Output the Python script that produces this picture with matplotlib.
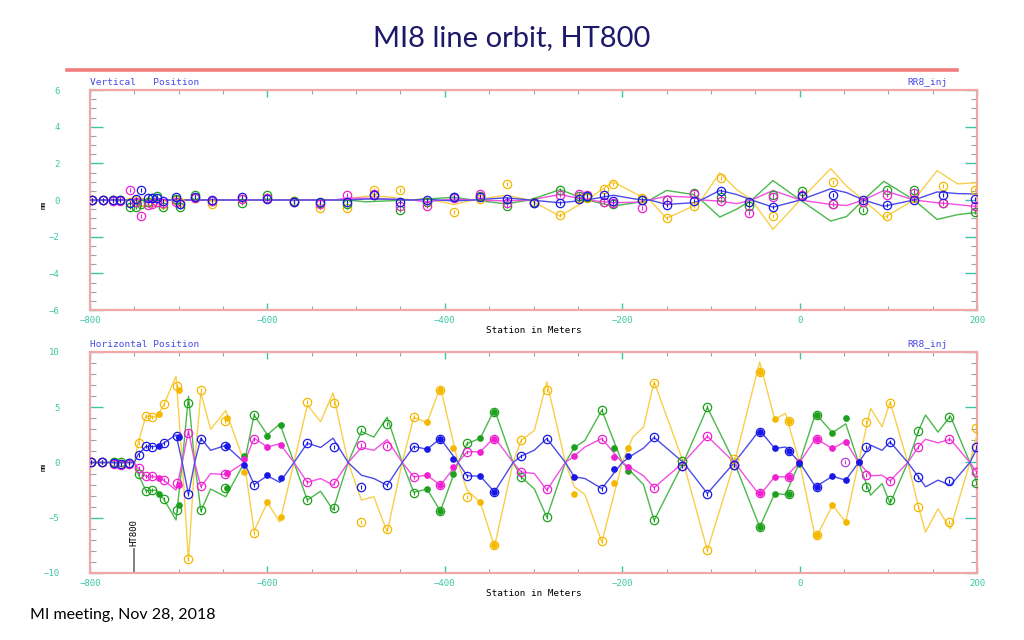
import matplotlib
matplotlib.use("Agg")
import matplotlib.pyplot as plt
import numpy as np
from matplotlib.lines import Line2D
from matplotlib.ticker import MultipleLocator

# ---- horizontal plane: orbit line knots (station m, mm) ----
h_s = [-800, -750, -746, -737, -725, -717, -703, -696, -689, -682, -675, -664, -647, -626,
       -615, -600, -586, -570, -555, -540, -526, -509, -494, -480, -465, -448, -435, -420,
       -405, -385, -375, -360, -344, -323, -314, -299, -285, -264, -254, -242, -223, -200,
       -188, -176, -164, -131, -104, -73.5, -45, -28, -16, 0, 18, 37, 52, 66.5, 80, 93,
       102, 122, 134, 142, 156, 170, 192, 200]
h_yellow = [0, 0, 1.7, 4.2, 4.1, 5.2, 7.8, 0, -8.9, 0, 6.3, 3.0, 4.7, 0,
            -6.2, -3.6, -5.4, 0, 5.2, 3.7, 6.3, 0, -3.4, -3.1, -6.3, 0, 4.1, 3.6,
            6.85, 0, -2.5, -3.6, -7.6, 0, 2.0, 2.9, 7.3, 0, -2.2, -2.9, -7.2, 0,
            2.3, 3.2, 7.3, 0, -7.95, 0, 9.1, 3.9, 4.45, 0, -6.9, -3.87, -5.38, 0, 4.9, 3.23,
            5.5, 0, -4.0, -6.3, -4.2, -6.0, 0, 2.5]
h_green = [0, 0, -1.0, -2.55, -2.5, -3.3, -5.2, 0, 6.0, 0, -4.4, -2.4, -3.1, 0,
           4.3, 2.5, 3.5, 0, -3.4, -2.6, -4.3, 0, 2.8, 2.3, 4.1, 0, -2.7, -2.4,
           -4.4, 0, 1.7, 2.2, 4.8, 0, -1.3, -2.4, -4.95, 0, 1.35, 2.0, 4.74, 0,
           -1.0, -2.0, -5.23, 0, 4.98, 0, -5.84, -2.8, -2.9, 0, 4.44, 2.69, 3.5, 0, -2.96, -1.9,
           -3.72, 0, 2.87, 4.3, 2.75, 4.2, 0, -1.9]
h_magenta = [0, 0, -0.5, -1.25, -1.3, -1.6, -2.5, 0, 2.9, 0, -2.2, -1.0, -1.1, 0,
             2.2, 1.4, 1.7, 0, -1.8, -1.45, -2.05, 0, 1.35, 1.1, 2.07, 0, -1.3, -1.15,
             -2.06, 0, 0.97, 0.97, 2.27, 0, -0.85, -1.0, -2.5, 0, 0.6, 1.4, 2.17, 0,
             -0.6, -1.2, -2.27, 0, 2.38, 0, -2.96, -1.3, -1.3, 0, 2.17, 1.27, 1.9, 0, -1.2, -1.15,
             -1.66, 0, 1.42, 2.1, 1.78, 2.1, 0, -0.9]
h_blue = [0, 0, 0.7, 1.45, 1.45, 1.75, 2.5, 0, -2.9, 0, 2.2, 1.1, 1.55, 0,
          -2.0, -1.2, -1.8, 0, 1.75, 1.36, 2.2, 0, -1.15, -1.45, -2.06, 0, 1.45, 1.2,
          2.17, 0, -1.2, -1.24, -2.66, 0, 0.57, 1.12, 2.17, 0, -1.3, -1.45, -2.36, 0,
          0.7, 1.3, 2.27, 0, -2.8, 0, 2.93, 1.27, 1.4, 0, -2.2, -1.24, -1.6, 0, 1.57, 1.1,
          1.87, 0, -1.3, -2.2, -1.6, -2.06, 0, 1.3]

# ---- horizontal plane: BPM readings ('o' open, 'f' filled, 'b' both) ----
h_bpm_s = [-799, -786, -773, -765, -756, -745, -737, -730, -722, -717, -702, -700, -689, -675,
           -648, -646, -626, -615, -600, -585, -555, -525, -494, -465, -435, -420, -405, -391,
           -375, -360, -345, -314, -285, -254, -223, -209, -194, -164, -133, -104, -73.5, -44.5,
           -28, -12.5, -0.5, 19.5, 37, 52, 66.5, 75, 102, 133.5, 168, 199]
h_bpm_kind = ['o', 'o', 'o', 'o', 'o', 'o', 'o', 'o', 'f', 'o', 'o', 'f', 'o', 'o',
              'o', 'f', 'f', 'o', 'f', 'f', 'o', 'o', 'o', 'o', 'o', 'f', 'b', 'f',
              'o', 'f', 'b', 'o', 'o', 'f', 'o', 'f', 'f', 'o', 'o', 'o', 'o', 'b',
              'f', 'b', 'f', 'b', 'f', 'f', 'f', 'o', 'o', 'o', 'o', 'o']
h_bpm_yellow = [0, 0, 0, -0.1, -0.1, 1.72, 4.22, 4.13, 4.35, 5.26, 6.9, 6.6, -8.7, 6.6,
                3.8, 4.0, -0.85, -6.38, -3.57, -4.93, 5.5, 5.35, -5.38, -5.98, 4.13, 3.62, 6.55, 1.27,
                -3.11, -3.57, -7.5, 2.02, 6.55, -2.81, -7.1, -1.84, 1.33, 7.2, 0.1, -7.95, 0.36, 8.22,
                3.9, 3.78, 0, -6.59, -3.87, -5.38, 0, 3.69, 5.35, -4.02, -5.38, 3.08]
h_bpm_green = [0, 0, 0, 0, -0.05, -1.0, -2.57, -2.45, -2.81, -3.32, -4.32, -3.87, 5.35, -4.32,
               -2.3, -2.27, 0.57, 4.29, 2.38, 3.38, -3.42, -4.08, 2.93, 3.48, -2.75, -2.36, -4.41, -1.0,
               1.72, 2.18, 4.6, -1.3, -4.93, 1.36, 4.74, 1.27, -0.75, -5.17, 0.1, 4.99, -0.24, -5.84,
               -2.81, -2.87, -0.1, 4.29, 2.69, 3.99, 0, -2.2, -3.42, 2.87, 4.14, -1.9]
h_bpm_magenta = [0, 0, -0.1, -0.25, -0.15, -0.5, -1.24, -1.24, -1.39, -1.6, -1.9, -2.06, 2.63, -2.15,
                 -1.06, -0.91, 0.36, 2.17, 1.42, 1.57, -1.75, -1.84, 1.57, 1.48, -1.3, -1.15, -2.06, -0.45,
                 0.97, 0.97, 2.09, -0.85, -2.36, 0.6, 2.17, 0.51, -0.45, -2.27, -0.33, 2.39, -0.24, -2.75,
                 -1.3, -1.3, 0, 2.17, 1.27, 1.87, 0, -1.15, -1.66, 1.42, 2.09, -0.85]
h_bpm_blue = [0, 0, -0.05, -0.1, -0.05, 0.66, 1.48, 1.36, 1.51, 1.78, 2.39, 2.27, -2.87, 2.17,
              1.45, 1.48, -0.24, -2.06, -1.15, -1.39, 1.72, 1.36, -2.21, -2.06, 1.42, 1.21, 2.17, 0.36,
              -1.24, -1.24, -2.66, 0.57, 2.17, -1.3, -2.36, -0.63, 0.57, 2.27, -0.33, -2.81, -0.24, 2.78,
              1.27, 1.03, -0.09, -2.21, -1.24, -1.6, 0, 1.42, 1.87, -1.3, -1.66, 1.42]
h_stray_s = [51]
h_stray_val = [0.06]

# ---- vertical plane: orbit line knots ----
v_s = [-800, -525, -510, -489, -466, -436, -421, -390, -368, -331, -304, -270, -240, -210,
       -185, -169, -150, -120, -111, -90, -71, -54, -30, 0.7, 35, 53, 72, 95, 129, 155,
       178, 196, 200]
v_yellow = [0, 0, 0.05, 0.21, 0.18, 0, 0.1, -0.25, 0, 0.26, 0, -0.88, 0, 0.99,
            0.35, 0, -1.0, -0.34, 0, 1.48, 0.57, 0, -1.6, 0, 1.71, 0.75, 0, -0.97, 0, 1.6,
            0.88, 0.93, 0.93]
v_green = [0, 0, 0, -0.1, -0.05, 0, 0.05, 0.15, 0, -0.21, 0, 0.57, 0, -0.33,
           -0.15, 0, 0.52, 0.3, 0, -0.93, -0.5, 0, 1.06, 0, -1.15, -0.9, 0, 1.02, 0, -1.06,
           -0.8, -0.7, -0.7]
v_magenta = [0, 0, 0.1, 0.1, 0.05, 0, -0.1, 0.05, 0, -0.05, 0, 0.3, 0, -0.15,
             -0.12, 0, 0.21, 0.15, 0, -0.06, -0.2, 0, 0.52, 0, -0.24, -0.3, 0, 0.52, 0, -0.15,
             -0.25, -0.34, -0.34]
v_blue = [0, 0, 0, 0.05, 0.05, 0, 0.04, -0.05, 0, 0.12, 0, -0.15, 0, 0.26,
          0.05, 0, -0.24, -0.15, 0, 0.52, 0.3, 0, -0.39, 0, 0.61, 0.4, 0, -0.34, 0, 0.44,
          0.35, 0.33, 0.33]

# ---- vertical plane: BPM readings ----
v_bpm_s = [-798, -785, -774, -766, -755, -748, -742, -735, -730, -724, -718, -703, -698, -682,
           -662, -629, -600, -570, -541, -510, -480, -450, -420, -390, -360, -330, -300, -270,
           -249, -240, -220, -210, -178, -149, -119, -89, -57, -30, 2.6, 38, 71.5, 98, 129,
           162, 198]
v_bpm_yellow = [0, 0, 0, 0, -0.1, 0, -0.1, -0.1, -0.1, -0.1, -0.2, 0, -0.1, 0.1,
                -0.24, 0.05, 0.1, -0.05, -0.42, -0.46, 0.52, 0.52, -0.1, -0.64, 0.05, 0.88, -0.1, -0.82,
                0.1, 0.1, 0.62, 0.88, 0.1, -0.97, -0.3, 1.2, -0.1, -0.88, 0.2, 0.99, -0.1, -0.88, 0.1,
                0.75, 0.57]
v_bpm_green = [0, 0, 0, 0, -0.39, -0.39, -0.2, -0.1, 0.1, 0.22, -0.36, 0.05, -0.39, 0.27,
               -0.05, -0.15, 0.27, -0.05, -0.15, -0.2, 0.25, -0.57, -0.1, 0.15, 0.2, -0.33, -0.1, 0.57,
               0.2, 0.15, -0.1, -0.2, 0, 0, 0.4, 0.15, -0.3, 0.3, 0.48, -0.24, -0.52, 0.52, 0.52,
               -0.15, -0.65]
v_bpm_magenta = [0, 0, -0.05, -0.05, 0.52, -0.1, -0.88, -0.27, -0.2, -0.1, -0.15, -0.09, -0.2, 0.1,
                 -0.05, 0.05, 0.1, -0.09, -0.2, 0.3, 0.34, -0.33, -0.33, 0.1, 0.34, -0.15, -0.15, 0.26,
                 0.34, 0.3, -0.1, -0.15, -0.42, 0, 0.33, -0.06, -0.7, 0.15, 0.3, -0.24, -0.1, 0.3, 0.4,
                 -0.15, -0.34]
v_bpm_blue = [0, 0, 0, 0, -0.15, 0.04, 0.52, 0.13, 0.1, 0.1, -0.05, 0.17, -0.24, 0.17,
              -0.02, 0.17, 0.04, -0.09, -0.1, -0.1, 0.3, -0.1, -0.02, 0.15, 0.15, 0.08, -0.15, -0.15,
              0.03, 0.21, 0.26, -0.06, 0, -0.28, -0.06, 0.48, -0.1, -0.39, 0.21, 0.3, 0, -0.28, 0,
              0.3, 0.08]

line_cols = {'yellow': '#f8cf4c', 'green': '#4cb84c', 'magenta': '#f250e2', 'blue': '#4c4ce8'}
mark_cols = {'yellow': '#f5b800', 'green': '#1ea01e', 'magenta': '#f020d0', 'blue': '#1818e6'}
TEAL = '#3cc6a6'
FRAME = '#f2a6a6'
LABEL_BLUE = '#4a4ae6'
MONO = 'DejaVu Sans Mono'


def draw_marks(ax, s, vals, col, kinds=None):
    s = np.array(s, dtype=float)
    vals = np.array(vals, dtype=float)
    if kinds is None:
        kinds = ['o'] * len(s)
    kinds = np.array(kinds)
    op = (kinds == 'o') | (kinds == 'b')
    fl = (kinds == 'f') | (kinds == 'b')
    ax.plot(s[op], vals[op], ls='none', marker='o', ms=6, mfc='none', mec=col, mew=0.9, zorder=4)
    ax.plot(s[op], vals[op], ls='none', marker='|', ms=3.5, mec=col, mew=0.8, zorder=4)
    ax.plot(s[fl], vals[fl], ls='none', marker='o', ms=3.8, mfc=col, mec=col, zorder=4)


def style_axes(ax, ymax, ymajor, yminor, title):
    ax.set_xlim(-800, 200)
    ax.set_ylim(-ymax, ymax)
    for sp in ax.spines.values():
        sp.set_color(FRAME)
        sp.set_linewidth(1.6)
    ax.xaxis.set_major_locator(MultipleLocator(200))
    ax.xaxis.set_minor_locator(MultipleLocator(50))
    ax.yaxis.set_major_locator(MultipleLocator(ymajor))
    ax.yaxis.set_minor_locator(MultipleLocator(yminor))
    ax.tick_params(axis='y', which='major', direction='in', length=9, width=1.0, color=TEAL,
                   left=True, right=True, labelsize=6.5, labelcolor=TEAL, pad=22)
    ax.tick_params(axis='y', which='minor', direction='in', length=4, width=0.8, color='#8fa6b4',
                   left=True, right=True)
    ax.tick_params(axis='x', which='major', direction='in', length=5, width=1.0, color=TEAL,
                   top=True, bottom=True, labelsize=6.5, labelcolor=TEAL, pad=4)
    ax.tick_params(axis='x', which='minor', direction='in', length=3, width=0.8, color='#8fa6b4',
                   top=True, bottom=True)
    for lab in ax.get_xticklabels() + ax.get_yticklabels():
        lab.set_family(MONO)
    ax.text(0.0, 1.012, title, transform=ax.transAxes, fontsize=6.8, family=MONO,
            color=LABEL_BLUE, ha='left', va='bottom')
    ax.text(0.967, 1.012, 'RR8_inj', transform=ax.transAxes, fontsize=6.8, family=MONO,
            color=LABEL_BLUE, ha='right', va='bottom')
    ax.text(0.5, -0.095, 'Station in Meters', transform=ax.transAxes, fontsize=6.7, family=MONO,
            color='black', ha='center', va='center')
    ax.text(-0.052, 0.48, 'mm', transform=ax.transAxes, fontsize=5, family=MONO,
            color='black', ha='center', va='center', rotation=90)


fig = plt.figure(figsize=(10.24, 6.4), dpi=100)
fig.patch.set_facecolor('white')

fig.text(0.5, 0.94, 'MI8 line orbit, HT800', ha='center', va='center', fontsize=21,
         family='Lato', color='#1e1868')
fig.add_artist(Line2D([67 / 1024, 957 / 1024], [1 - 70 / 640, 1 - 70 / 640],
                      color='#f07c7c', lw=2.6, transform=fig.transFigure))

ax_v = fig.add_axes([90 / 1024, 1 - 310 / 640, 887 / 1024, 220 / 640])
ax_h = fig.add_axes([90 / 1024, 1 - 573 / 640, 887 / 1024, 221 / 640])

style_axes(ax_v, 6, 2, 0.5, 'Vertical   Position')
style_axes(ax_h, 10, 5, 1, 'Horizontal Position')

for name, vals, bpm in [('yellow', v_yellow, v_bpm_yellow), ('green', v_green, v_bpm_green),
                        ('magenta', v_magenta, v_bpm_magenta), ('blue', v_blue, v_bpm_blue)]:
    ax_v.plot(v_s, vals, color=line_cols[name], lw=1.0, zorder=3)
    draw_marks(ax_v, v_bpm_s, bpm, mark_cols[name])

for name, vals, bpm in [('yellow', h_yellow, h_bpm_yellow), ('green', h_green, h_bpm_green),
                        ('magenta', h_magenta, h_bpm_magenta), ('blue', h_blue, h_bpm_blue)]:
    ax_h.plot(h_s, vals, color=line_cols[name], lw=1.0, zorder=3)
    draw_marks(ax_h, h_bpm_s, bpm, mark_cols[name], h_bpm_kind)
draw_marks(ax_h, h_stray_s, h_stray_val, '#b040d0')

# HT800 marker
ax_h.plot([-750, -750], [-10, -7.8], color='#808080', lw=1.4, zorder=2)
ax_h.text(-750, -7.6, 'HT800', rotation=90, fontsize=6.5, family=MONO, color='black',
          ha='center', va='bottom')

fig.text(30 / 1024, 1 - 615 / 640, 'MI meeting, Nov 28, 2018', fontsize=11.5, family='Lato',
         color='black', ha='left', va='center')

fig.savefig('out.png', dpi=100, facecolor='white')
